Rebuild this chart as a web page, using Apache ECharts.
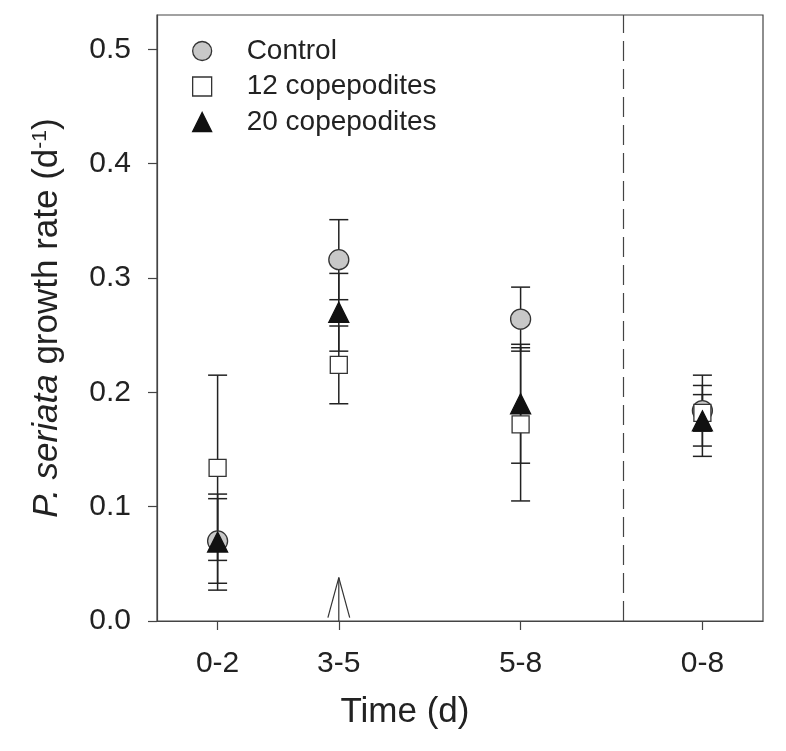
<!DOCTYPE html>
<html>
<head>
<meta charset="utf-8">
<script src="https://cdn.jsdelivr.net/npm/echarts@6/dist/echarts.min.js"></script>
<style>html,body{margin:0;padding:0;background:#fff;}#c{width:786px;height:751px;}</style>
</head>
<body>
<div id="c"></div>
<script>
const categories = ['0-2', '3-5', '5-8', '0-8'];
const xPositions = [1, 3, 6, 9];
const seriesNames = ['Control', '12 copepodites', '20 copepodites'];
const controlValues = [0.070, 0.316, 0.264, 0.184];
const cop12Values = [0.134, 0.224, 0.172, 0.182];
const cop20Values = [0.069, 0.270, 0.190, 0.175];
const controlErr = [0.037, 0.035, 0.028, 0.031];
const cop12Err = [0.081, 0.034, 0.067, 0.016];
const cop20Err = [0.042, 0.034, 0.052, 0.031];
const dividerX = 7.7;
const arrowX = 3;
const arrowTip = 0.038;
const yTickValues = [0, 0.1, 0.2, 0.3, 0.4, 0.5];
const yTickLabels = ['0.0', '0.1', '0.2', '0.3', '0.4', '0.5'];

const FONT = 'Liberation Sans, Arial, sans-serif';
const INK = '#222';

function errData(vals, errs) {
  return xPositions.map((x, i) => [x, vals[i] - errs[i], vals[i] + errs[i]]);
}
function ptData(vals) {
  return xPositions.map((x, i) => [x, vals[i]]);
}
function errRender(params, api) {
  const x = api.value(0);
  const lo = api.coord([x, api.value(1)]);
  const hi = api.coord([x, api.value(2)]);
  const hw = 9.5;
  const st = { stroke: INK, lineWidth: 1.5 };
  return {
    type: 'group',
    children: [
      { type: 'line', shape: { x1: lo[0], y1: lo[1], x2: hi[0], y2: hi[1] }, style: st },
      { type: 'line', shape: { x1: lo[0] - hw, y1: lo[1], x2: lo[0] + hw, y2: lo[1] }, style: st },
      { type: 'line', shape: { x1: hi[0] - hw, y1: hi[1], x2: hi[0] + hw, y2: hi[1] }, style: st }
    ]
  };
}
function arrowRender(params, api) {
  const x = api.value(0);
  const base = api.coord([x, 0]);
  const tip = api.coord([x, api.value(1)]);
  const l = api.coord([x - 0.18, 0.003]);
  const r = api.coord([x + 0.18, 0.003]);
  const st = { stroke: '#333', lineWidth: 1.2 };
  return {
    type: 'group',
    children: [
      { type: 'line', shape: { x1: base[0], y1: base[1], x2: tip[0], y2: tip[1] }, style: st },
      { type: 'line', shape: { x1: l[0], y1: l[1], x2: tip[0], y2: tip[1] }, style: st },
      { type: 'line', shape: { x1: r[0], y1: r[1], x2: tip[0], y2: tip[1] }, style: st }
    ]
  };
}

const styles = [
  { symbol: 'circle', size: 20, color: '#c8c8c8', border: '#333' },
  { symbol: 'rect', size: 17, color: '#ffffff', border: '#333' },
  { symbol: 'triangle', size: 20, color: '#111111', border: '#111' }
];
const valueSets = [controlValues, cop12Values, cop20Values];
const errSets = [controlErr, cop12Err, cop20Err];

const series = [];
errSets.forEach((e, k) => {
  series.push({
    name: 'err' + k, type: 'custom', renderItem: errRender,
    data: errData(valueSets[k], e), z: 2, silent: true
  });
});
series.push({
  name: 'arrow', type: 'custom', renderItem: arrowRender,
  data: [[arrowX, arrowTip]], z: 2, silent: true,
  markLine: {
    silent: true, symbol: 'none', label: { show: false },
    lineStyle: { type: [20, 8], color: '#444', width: 1.2 },
    data: [{ xAxis: dividerX }]
  }
});
valueSets.forEach((v, k) => {
  series.push({
    name: seriesNames[k], type: 'scatter', symbol: styles[k].symbol,
    symbolSize: styles[k].size, data: ptData(v), z: 3 + k,
    itemStyle: { color: styles[k].color, borderColor: styles[k].border, borderWidth: 1.3, opacity: 1 }
  });
});

const chart = echarts.init(document.getElementById('c'), null, { renderer: 'canvas' });
chart.setOption({
  animation: false,
  backgroundColor: '#fff',
  textStyle: { fontFamily: FONT },
  grid: { left: 157, right: 23, top: 15, bottom: 130, show: true, borderColor: '#444', borderWidth: 1.2 },
  legend: {
    orient: 'vertical', left: 187, top: 32, itemGap: 7.5, itemWidth: 19, itemHeight: 19,
    data: seriesNames.map((n, k) => ({ name: n, icon: styles[k].symbol,
      itemStyle: { color: styles[k].color, borderColor: styles[k].border, borderWidth: 1.3 } })),
    textStyle: { fontSize: 28, color: INK, fontFamily: FONT, padding: [0, 0, 0, 30], lineHeight: 28 }
  },
  xAxis: {
    type: 'value', min: 0, max: 10,
    name: 'Time (d)', nameLocation: 'middle', nameGap: 74,
    nameTextStyle: { fontSize: 35, color: INK, fontFamily: FONT, padding: [0, 110, 0, 0] },
    axisLine: { lineStyle: { color: '#444', width: 1.2 } },
    axisTick: { show: true, inside: false, length: 9, customValues: xPositions, lineStyle: { color: '#444', width: 1.2 } },
    axisLabel: { customValues: xPositions, margin: 28, fontSize: 30, color: INK, fontFamily: FONT,
      formatter: v => categories[xPositions.indexOf(Math.round(v))] },
    splitLine: { show: false }
  },
  yAxis: {
    type: 'value', min: 0, max: 0.53,
    name: '{i|P. seriata} growth rate (d{sup|-1})', nameLocation: 'middle', nameGap: 92,
    nameTextStyle: { fontSize: 35, color: INK, fontFamily: FONT,
      rich: {
        i: { fontStyle: 'italic', fontSize: 35, color: INK, fontFamily: FONT },
        sup: { fontSize: 21, color: INK, fontFamily: FONT, verticalAlign: 'top', padding: [0, 0, 14, 0] }
      } },
    axisLine: { lineStyle: { color: '#444', width: 1.2 } },
    axisTick: { show: true, inside: false, length: 9, customValues: yTickValues, lineStyle: { color: '#444', width: 1.2 } },
    axisLabel: { customValues: yTickValues, margin: 26, fontSize: 30, color: INK, fontFamily: FONT,
      formatter: v => yTickLabels[Math.round(v * 10)] },
    splitLine: { show: false }
  },
  series: series
});
</script>
</body>
</html>
